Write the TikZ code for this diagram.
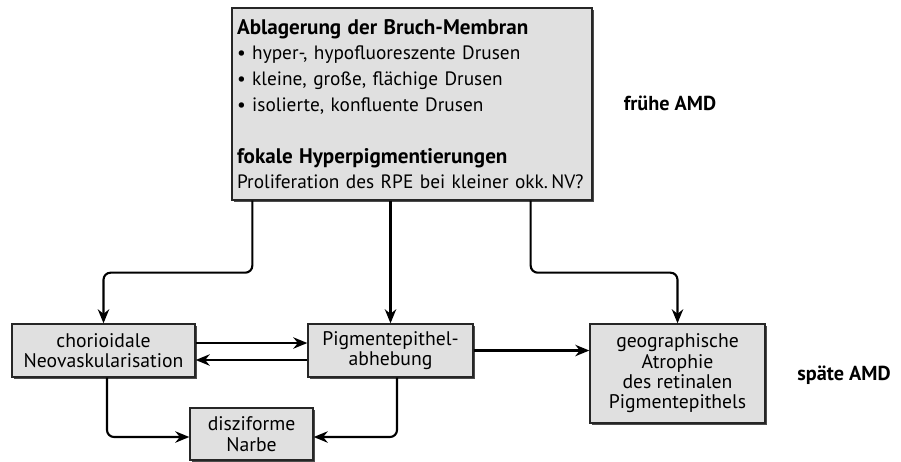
\documentclass[tikz,border=0pt]{standalone}
\usepackage{fontspec}
\setmainfont{PT Sans}
\usetikzlibrary{arrows.meta,positioning,shadows}

\begin{document}
\begin{tikzpicture}[x=0.02cm,y=-0.02cm,
  every node/.style={font=\fontsize{11.2}{11.6}\selectfont},
  box/.style={draw=black!85,fill=black!12,line width=0.8pt,align=center,
    inner sep=2pt,
    drop shadow={shadow xshift=1.3pt,shadow yshift=-1.3pt,fill=black!70,opacity=1}},
  link/.style={-{Stealth[length=8pt,width=6.5pt]},line width=1.2pt,rounded corners=4pt},
  stage/.style={font=\fontsize{11.5}{13}\selectfont\bfseries}]
  \useasboundingbox (0,0) rectangle (901,461);
  % Ablagerungen (frühe AMD)
  \node[box,align=left,minimum width=7.2cm,minimum height=3.84cm,
        text width=7cm,font=\fontsize{11}{14.6}\selectfont] (top) at (412,104)
    {{\fontsize{12}{14.6}\selectfont\bfseries Ablagerung der Bruch-Membran}\\
     • hyper-, hypofluoreszente Drusen\\
     • kleine, große, flächige Drusen\\
     • isolierte, konfluente Drusen\\[15pt]
     {\fontsize{12}{14.6}\selectfont\bfseries fokale Hyperpigmentierungen}\\
     Proliferation des RPE bei kleiner okk.\,NV?};
  \node[stage] (early) at (670,103) {frühe AMD};
  % späte AMD
  \node[box,minimum width=3.66cm,minimum height=1.06cm] (cnv) at (103.5,350.5)
    {chorioidale\\Neovaskularisation};
  \node[box,minimum width=3.3cm,minimum height=1.06cm] (ped) at (390.5,350.5)
    {Pigmentepithel-\\abhebung};
  \node[box,minimum width=3.5cm,minimum height=1.98cm] (ga) at (677.5,373.5)
    {geographische\\Atrophie\\des retinalen\\Pigmentepithels};
  \node[box,minimum width=2.46cm,minimum height=1.04cm] (scar) at (251.5,434)
    {disziforme\\Narbe};
  \node[stage] (late) at (844,375) {späte AMD};
  % Pfeile
  \draw[link] ([xshift=0.42cm]top.south west) -- ++(0,-1.44cm) -| (cnv.north);
  \draw[link] (ped.north |- top.south) -- (ped.north);
  \draw[link] ([xshift=-1.24cm]top.south east) -- ++(0,-1.44cm) -| (ga.north);
  \draw[link] ([yshift=0.15cm]cnv.east) -- ([yshift=0.15cm]cnv.east -| ped.west);
  \draw[link] ([yshift=-0.19cm]ped.west) -- ([yshift=-0.19cm]ped.west -| cnv.east);
  \draw[link] (ped.east) -- (ped.east -| ga.west);
  \draw[link] ([xshift=0.07cm]cnv.south) |- ([yshift=-0.06cm]scar.west);
  \draw[link] ([xshift=0.13cm]ped.south) |- ([yshift=-0.06cm]scar.east);
\end{tikzpicture}
\end{document}
